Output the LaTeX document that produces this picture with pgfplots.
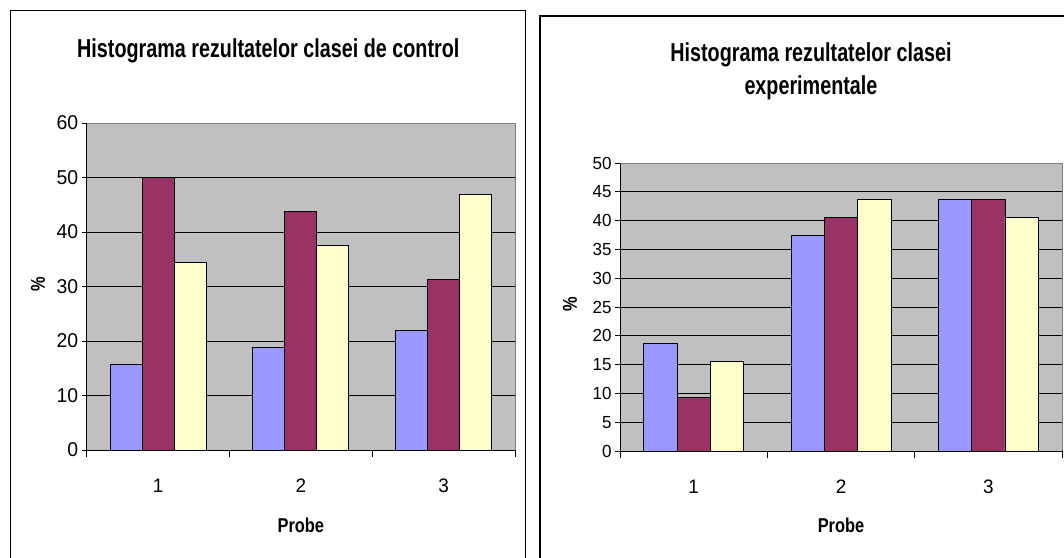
\documentclass[border=0pt]{standalone}
\usepackage{pgfplots}
\pgfplotsset{compat=1.18}
\usepackage{pgfplotstable}
\usepackage{fontspec}
\setmainfont{Liberation Sans}
\newfontfamily\titlefont[FakeStretch=0.76]{Liberation Sans}
\newfontfamily\tickfont[FakeStretch=0.97]{Liberation Sans}
\newfontfamily\labelfont[FakeStretch=0.82]{Liberation Sans}
\definecolor{barblue}{HTML}{9999FF}
\definecolor{barpurple}{HTML}{993366}
\definecolor{baryellow}{HTML}{FFFFCC}
\definecolor{plotbg}{HTML}{C0C0C0}
\definecolor{plotborder}{HTML}{808080}

\pgfplotstableread{
x a b c
1 15.625 50 34.375
2 18.75 43.75 37.5
3 21.875 31.25 46.875
}\control
\pgfplotstableread{
x a b c
1 18.75 9.375 15.625
2 37.5 40.625 43.75
3 43.75 43.75 40.625
}\experim

\pgfplotsset{excelbar/.style={
  scale only axis,
  ybar=0pt,
  xmin=0.5, xmax=3.5,
  ymin=0,
  xtick={1,2,3},
  minor xtick={0.5,1.5,2.5,3.5},
  major x tick style={draw=none},
  tick align=outside,
  tick pos=left,
  major tick length=5pt, minor tick length=7pt,
  tick style={black, line width=0.8pt},
  axis background/.style={fill=plotbg},
  ymajorgrids, grid style={black, line width=0.9pt},
  axis line style={black, line width=0.9pt},
  /pgf/number format/assume math mode=true,
  xticklabel style={font=\tickfont\fontsize{19.5}{20}\selectfont, anchor=base, yshift=-37pt},
  xlabel style={at={(0.5,0)}, anchor=base, yshift=-82pt, font=\labelfont\bfseries\fontsize{20}{24}\selectfont},
  ylabel style={anchor=center, font=\labelfont\bfseries\fontsize{20}{24}\selectfont},
  after end axis/.code={\draw[plotborder, line width=0.9pt] (rel axis cs:0,1) -- (rel axis cs:1,1) -- (rel axis cs:1,0);},
}}

\begin{document}
\begin{tikzpicture}
\useasboundingbox (0,0) rectangle (1064pt,-557pt);
\fill[white] (0,0) rectangle (1064pt,-557pt);
% frames
\draw[line width=1.5pt] (10.5pt,-560pt) -- (10.5pt,-10.5pt) -- (525.5pt,-10.5pt) -- (525.5pt,-560pt);
\draw[line width=1.5pt] (540pt,-560pt) -- (540pt,-16pt) -- (1070pt,-16pt);

\begin{axis}[excelbar,
  at={(86.7pt,-450pt)}, anchor=south west,
  width=428.3pt, height=327pt,
  ymax=60, ytick={0,10,...,60},
  bar width=32pt,
  yticklabel style={font=\tickfont\fontsize{20}{20}\selectfont},
  title={Histograma rezultatelor clasei de control},
  title style={at={(0.424,1)}, anchor=base, yshift=59.5pt, font=\titlefont\bfseries\fontsize{26}{30}\selectfont},
  xlabel={Probe},
  ylabel={\%},
  ylabel style={at={(0,0.508)}, yshift=48.7pt},
]
\addplot[fill=barblue, draw=black, line width=0.8pt] table[x=x,y=a]{\control};
\addplot[fill=barpurple, draw=black, line width=0.8pt] table[x=x,y=b]{\control};
\addplot[fill=baryellow, draw=black, line width=0.8pt] table[x=x,y=c]{\control};
\end{axis}

\begin{axis}[excelbar,
  at={(620pt,-451pt)}, anchor=south west,
  width=442pt, height=288pt,
  ymax=50, ytick={0,5,...,50},
  bar width=33.3pt,
  yticklabel style={font=\tickfont\fontsize{17.5}{18}\selectfont},
  title={Histograma rezultatelor clasei\\experimentale},
  title style={at={(0.432,1)}, anchor=base, align=center, yshift=63pt, font=\titlefont\bfseries\fontsize{26}{33}\selectfont},
  xlabel={Probe},
  xlabel style={yshift=1pt},
  ylabel={\%},
  ylabel style={at={(0,0.51)}, yshift=50pt},
]
\addplot[fill=barblue, draw=black, line width=0.8pt] table[x=x,y=a]{\experim};
\addplot[fill=barpurple, draw=black, line width=0.8pt] table[x=x,y=b]{\experim};
\addplot[fill=baryellow, draw=black, line width=0.8pt] table[x=x,y=c]{\experim};
\end{axis}
\end{tikzpicture}
\end{document}
